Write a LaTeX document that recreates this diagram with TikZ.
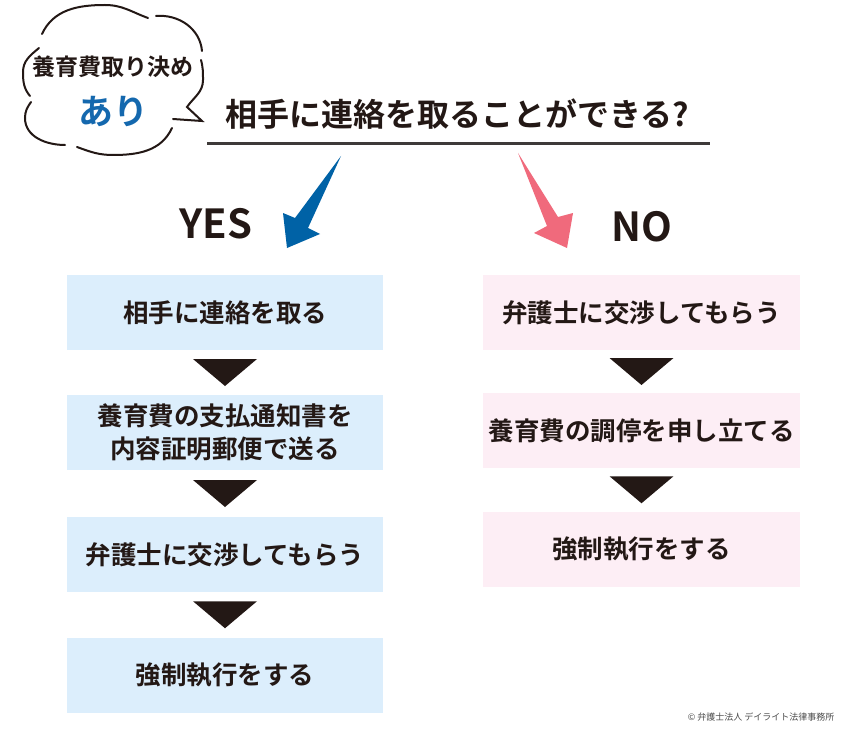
\documentclass[tikz,border=0pt]{standalone}
\usepackage{fontspec}
\setmainfont{Noto Sans CJK JP}[BoldFont={Noto Sans CJK JP Bold}]
\usetikzlibrary{calc}
\definecolor{ink}{HTML}{231815}
\definecolor{lblue}{HTML}{DCEEFC}
\definecolor{lpink}{HTML}{FDEEF5}
\definecolor{arrblue}{HTML}{0062A6}
\definecolor{arrpink}{HTML}{F06A7C}
\definecolor{ariblue}{HTML}{1468AE}
\definecolor{uline}{HTML}{3E3A39}
\newcommand\boxfont{\bfseries\fontsize{25.5}{33}\selectfont}
\newcommand\downtri[2]{\fill[ink] ($(#1.south)!0.5!(#2.north)$) +(-32,13.5) -- +(32,13.5) -- +(0,-13.5) -- cycle;}
\tikzset{
  flowbox/.style={minimum height=75pt, inner sep=0pt, font=\boxfont, text=ink, align=center},
  lbox/.style={flowbox, fill=lblue, minimum width=316pt},
  rbox/.style={flowbox, fill=lpink, minimum width=317pt},
  cloudline/.style={draw=ink, line width=2pt, line cap=round},
}
\begin{document}
\begin{tikzpicture}[x=1pt,y=1pt]
\useasboundingbox (0,0) rectangle (850,-730);
\fill[white] (0,0) rectangle (850,-730);

% cloud
\draw[cloudline] (42,-34) to[out=65,in=180] (105,-5) to[out=0,in=160] (148,-18);
\draw[cloudline] (156,-16) to[out=5,in=95] (202,-51);
\draw[cloudline] (201,-60) to[out=-75,in=90] (203,-80) to[out=-90,in=55] (187,-107) -- (202,-121) -- (173,-119);
\draw[cloudline] (172,-128) to[out=-115,in=0] (113,-155) to[out=180,in=-20] (77,-147);
\draw[cloudline] (65,-145) to[out=180,in=-90] (25,-118) to[out=90,in=-125] (31,-102);
\draw[cloudline] (30,-96) to[out=130,in=-90] (23,-72) to[out=90,in=-140] (39,-48);
\node[font=\bfseries\fontsize{23}{23}\selectfont, text=ink, inner sep=0pt] (c1) at (113,-67) {養育費取り決め};
\node[font=\bfseries\fontsize{35}{35}\selectfont, text=ariblue, inner sep=0pt] (c2) at (113,-111) {あり};

% title
\node[font=\bfseries\fontsize{32}{32}\selectfont, text=ink, inner sep=0pt] (q) at (457.5,-114) {相手に連絡を取ることができる?};
\coordinate (ulA) at (207,-144);
\coordinate (ulB) at (710,-144);
\draw[line width=3pt, uline] (ulA) -- (ulB);

% big arrows
\fill[arrblue] (341,-156) -- (308,-228) -- (320,-234) -- (287,-248) -- (283,-213) -- (295,-218) -- cycle;
\fill[arrpink] (518,-153) -- (547,-226) -- (534,-233) -- (567,-248) -- (573,-213) -- (558,-217) -- cycle;

\node[font=\bfseries\fontsize{40}{40}\selectfont, text=ink, inner sep=0pt] (yes) at (216,-224) {YES};
\node[font=\bfseries\fontsize{40}{40}\selectfont, text=ink, inner sep=0pt] (no) at (642,-227) {NO};

% left column
\node[lbox] (l1) at (225,-312.5) {相手に連絡を取る};
\node[lbox] (l2) at (225,-432.5) {養育費の支払通知書を\\内容証明郵便で送る};
\node[lbox] (l3) at (225,-554.5) {弁護士に交渉してもらう};
\node[lbox] (l4) at (225,-675) {強制執行をする};
\downtri{l1}{l2}
\downtri{l2}{l3}
\downtri{l3}{l4}

% right column
\node[rbox] (r1) at (641.5,-312.5) {弁護士に交渉してもらう};
\node[rbox] (r2) at (641.5,-430.5) {養育費の調停を申し立てる};
\node[rbox] (r3) at (641.5,-549) {強制執行をする};
\downtri{r1}{r2}
\downtri{r2}{r3}

\node[font=\fontsize{9}{9}\selectfont, text=black!70, inner sep=0pt] (copy) at (761,-717) {© 弁護士法人 デイライト法律事務所};
\end{tikzpicture}
\end{document}
